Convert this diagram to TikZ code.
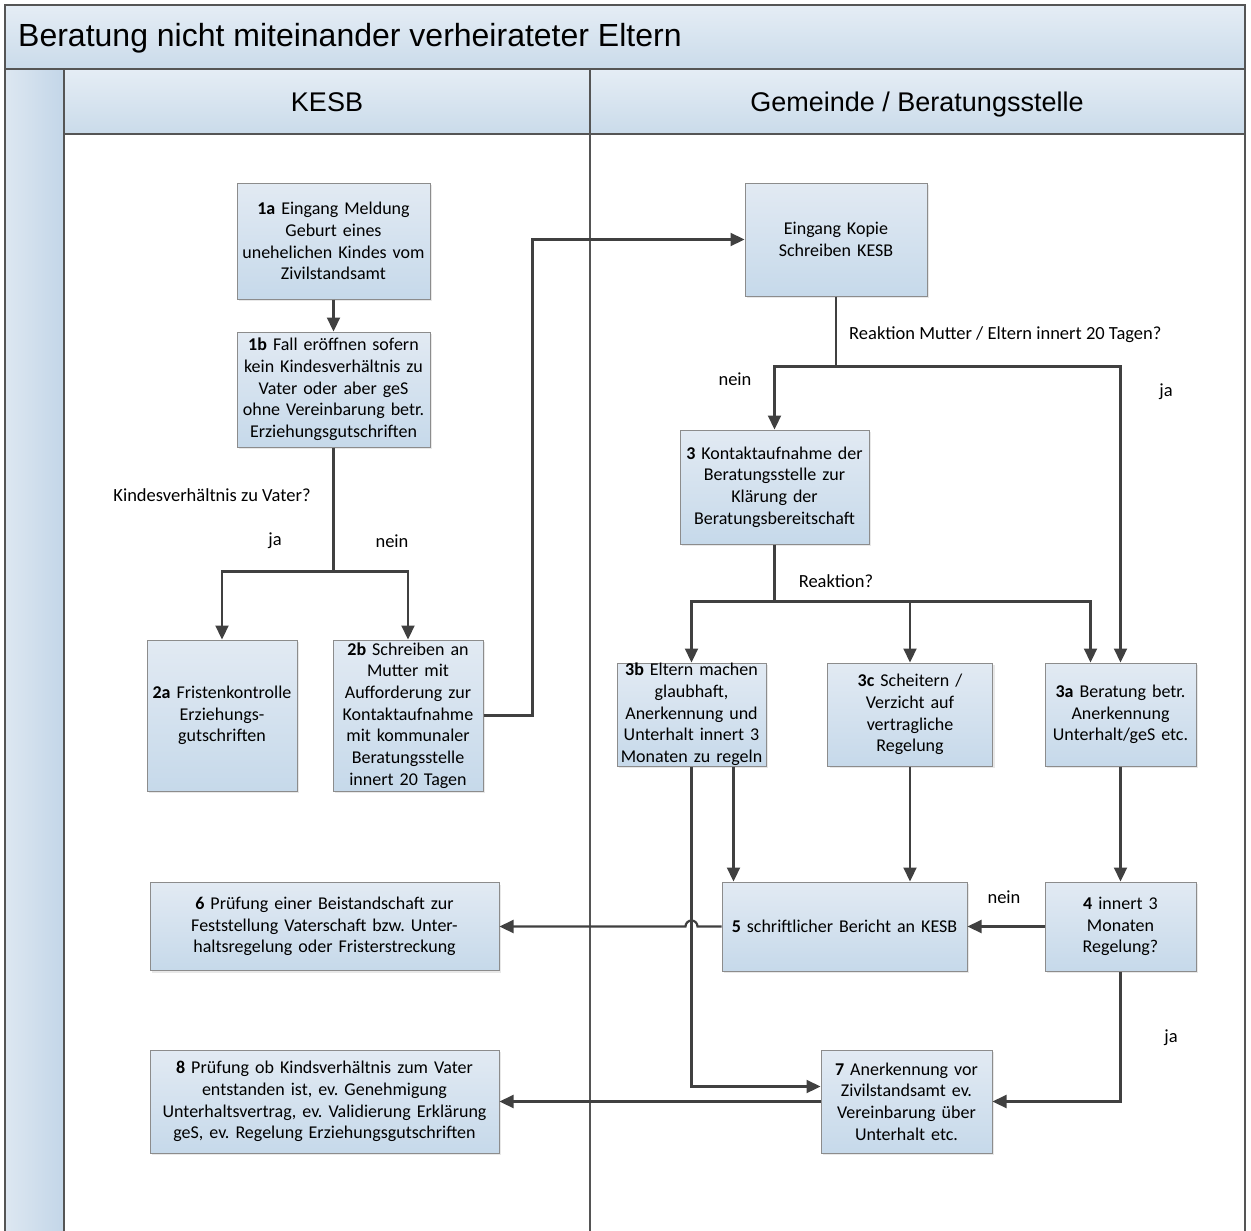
\documentclass[tikz,border=0pt]{standalone}
\usepackage{fontspec}
\setmainfont{Carlito}
\newfontfamily\headfont{Liberation Sans}
\usetikzlibrary{arrows.meta,shadows}
\frenchspacing
\definecolor{boxtop}{HTML}{E2EAF3}
\definecolor{boxbot}{HTML}{C6D9EA}
\definecolor{boxline}{HTML}{8C8C8C}
\definecolor{flowcol}{HTML}{404040}
\definecolor{framecol}{HTML}{555555}
\definecolor{headtop}{HTML}{E5EDF5}
\definecolor{headbot}{HTML}{CADBEA}
\definecolor{bandl}{HTML}{DDE7F1}
\definecolor{bandr}{HTML}{C3D6E8}
\begin{document}
\begin{tikzpicture}[x=1pt,y=-1pt,
proc/.style={draw=boxline,line width=1pt,top color=boxtop,bottom color=boxbot,align=center,inner sep=3pt,
  font=\fontsize{18}{21.7}\selectfont,drop shadow={shadow xshift=2pt,shadow yshift=-2pt,opacity=0.18}},
flow/.style={draw=flowcol,line width=2.2pt,-{Triangle[length=14pt,width=13pt]}},
lbl/.style={font=\fontsize{18.5}{22}\selectfont,inner sep=0pt},
head/.style={draw=framecol,line width=1.5pt,top color=headtop,bottom color=headbot},
lane/.style={draw=framecol,line width=1.5pt}]
\useasboundingbox (0,0) rectangle (1251,1231);
% pool and lanes
\draw[head] (5,5) rectangle (1245,69);
\draw[lane,left color=bandl,right color=bandr] (5,69) rectangle (64,1240);
\draw[head] (64,69) rectangle (590,134);
\draw[head] (590,69) rectangle (1245,134);
\draw[lane] (590,134) -- (590,1240);
\draw[lane] (1245,134) -- (1245,1240);
\draw (18,47) node[anchor=base west,inner sep=0pt,font=\headfont\fontsize{32}{36}\selectfont] (ttl) {Beratung nicht miteinander verheirateter Eltern};
\draw (327,111) node[anchor=base,inner sep=0pt,font=\headfont\fontsize{27}{31}\selectfont] (kesb) {KESB};
\draw (917,111) node[anchor=base,inner sep=0pt,font=\headfont\fontsize{27}{31}\selectfont] (gem) {Gemeinde / Beratungsstelle};
% KESB
\draw (333.5,241) node[proc,text width=187pt,minimum height=116pt] (k1a) {\textbf{1a} Eingang Meldung\\Geburt eines\\unehelichen Kindes vom\\Zivilstandsamt};
\draw (333.5,389.5) node[proc,text width=187pt,minimum height=115pt] (k1b) {\textbf{1b} Fall eröffnen sofern\\kein Kindesverhältnis zu\\Vater oder aber geS\\ohne Vereinbarung betr.\\Erziehungsgutschriften};
\draw (222,715.5) node[proc,text width=144pt,minimum height=151pt] (k2a) {\textbf{2a} Fristenkontrolle\\Erziehungs-\\gutschriften};
\draw (408,715.5) node[proc,text width=144pt,minimum height=151pt,inner ysep=0pt] (k2b) {\textbf{2b} Schreiben an\\Mutter mit\\Aufforderung zur\\Kontaktaufnahme\\mit kommunaler\\Beratungsstelle\\innert 20 Tagen};
\draw (324.5,926.5) node[proc,text width=343pt,minimum height=88pt] (k6) {\textbf{6} Prüfung einer Beistandschaft zur\\Feststellung Vaterschaft bzw. Unter-\\haltsregelung oder Fristerstreckung};
\draw (324.5,1101.5) node[proc,text width=343pt,minimum height=103pt] (k8) {\textbf{8} Prüfung ob Kindsverhältnis zum Vater\\entstanden ist, ev. Genehmigung\\Unterhaltsvertrag, ev. Validierung Erklärung\\geS, ev. Regelung Erziehungsgutschriften};
% Gemeinde / Beratungsstelle
\draw (836,239.5) node[proc,text width=176pt,minimum height=113pt] (ek) {Eingang Kopie\\Schreiben KESB};
\draw (774.5,487) node[proc,text width=183pt,minimum height=114pt] (k3) {\textbf{3} Kontaktaufnahme der\\Beratungsstelle zur\\Klärung der\\Beratungsbereitschaft};
\draw (691.5,714.5) node[proc,text width=149pt,minimum height=103pt,inner sep=0pt] (k3b) {\textbf{3b} Eltern machen\\glaubhaft,\\Anerkennung und\\Unterhalt innert 3\\Monaten zu regeln};
\draw (910,714.5) node[proc,text width=159pt,minimum height=103pt] (k3c) {\textbf{3c} Scheitern /\\Verzicht auf\\vertragliche\\Regelung};
\draw (1120.5,714.5) node[proc,text width=145pt,minimum height=103pt] (k3a) {\textbf{3a} Beratung betr.\\Anerkennung\\Unterhalt/geS etc.\\[8pt]};
\draw (844.5,926.5) node[proc,text width=239pt,minimum height=89pt] (k5) {\textbf{5} schriftlicher Bericht an KESB};
\draw (1120.5,926.5) node[proc,text width=145pt,minimum height=89pt] (k4) {\textbf{4} innert 3\\Monaten\\Regelung?};
\draw (906.5,1101.5) node[proc,text width=165pt,minimum height=103pt] (k7) {\textbf{7} Anerkennung vor\\Zivilstandsamt ev.\\Vereinbarung über\\Unterhalt etc.};
% labels
\draw (212,495) node[lbl] (q1) {Kindesverhältnis zu Vater?};
\draw (275,541) node[lbl] (q1ja) {ja};
\draw (392,541) node[lbl] (q1nein) {nein};
\draw (849,335) node[lbl,anchor=west] (q2) {Reaktion Mutter / Eltern innert 20 Tagen?};
\draw (735,379) node[lbl] (q2nein) {nein};
\draw (1166,392) node[lbl] (q2ja) {ja};
\draw (836,581) node[lbl] (q3) {Reaktion?};
\draw (1004,897) node[lbl] (q4nein) {nein};
\draw (1171,1038) node[lbl] (q4ja) {ja};
% connectors
\draw[flow] (k1a) -- (k1b);
\draw[flow] (k1b.south) -- ++(0,124) -| (k2a.north);
\draw[flow] (k1b.south) ++(0,124) -| (k2b.north);
\draw[flow] (k2b.east) -- ++(49,0) |- (ek.west);
\draw[flow] (ek.south) -- ++(0,70) -| (k3.north);
\draw[flow] (ek.south) ++(0,70) -| (k3a.north);
\draw[flow] (k3.south) -- ++(0,57) -| (k3b.north);
\draw[flow] (k3.south) ++(0,57) -| (k3c.north);
\draw[flow] (k3.south) ++(0,57) -| ([xshift=-30pt]k3a.north);
\draw[flow] ([xshift=42pt]k3b.south) -- ([xshift=42pt]k3b.south |- k5.north);
\draw[flow] (k3c.south) -- (k3c.south |- k5.north);
\draw[flow] (k3a) -- (k4);
\draw[flow] (k4) -- (k5);
\draw[flow] (k5.west) -- ([xshift=6pt]k3b.south |- k5.west) arc (0:-180:6) -- (k6.east);
\draw[flow] (k3b.south) |- ([yshift=15pt]k7.west);
\draw[flow] (k4.south) |- (k7.east);
\draw[flow] (k7) -- (k8);
\end{tikzpicture}
\end{document}
